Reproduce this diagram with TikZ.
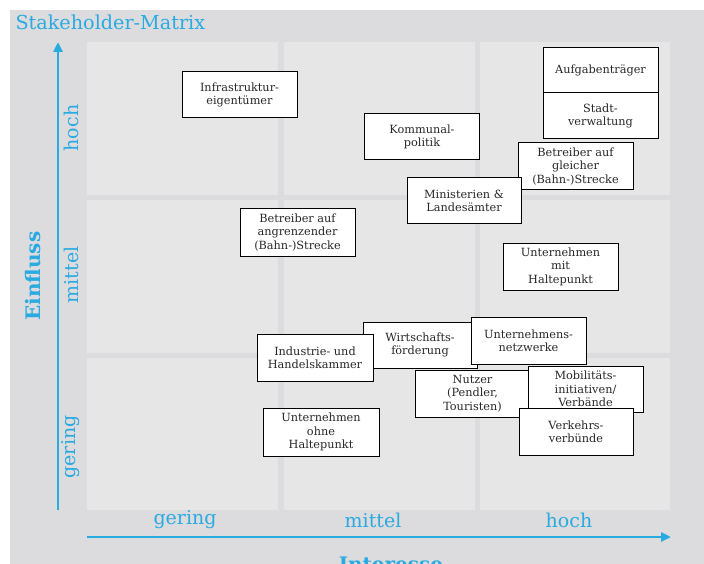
\documentclass[tikz,border=0pt]{standalone}
\usepackage{fontspec}
\setmainfont{DejaVu Serif}
\usetikzlibrary{arrows.meta}
\definecolor{axisblue}{RGB}{41,171,226}
\definecolor{bggray}{RGB}{220,219,221}
\definecolor{cellgray}{RGB}{230,230,230}
\definecolor{boxtext}{RGB}{40,40,40}
\tikzset{
  stake/.style={draw=black, line width=1pt, fill=white, text=boxtext,
    minimum width=115pt, minimum height=46pt, inner sep=1pt, align=center,
    font=\fontsize{11.3}{13.4}\selectfont},
  cell/.style={fill=cellgray, draw=none},
  axisarrow/.style={draw=axisblue, line width=2.6pt,
    -{Triangle[length=10pt,width=9pt]}},
  levelx/.style={text=axisblue, font=\fontsize{19}{22}\selectfont},
  levely/.style={text=axisblue, font=\fontsize{19}{22}\selectfont, rotate=90},
  axistitle/.style={text=axisblue, font=\fontsize{20}{24}\selectfont\bfseries}
}
\begin{document}
\begin{tikzpicture}[x=1pt,y=-1pt]
  \useasboundingbox (0,0) rectangle (704,564);
  \clip (0,0) rectangle (704,564);
  % backdrop
  \fill[white] (0,0) rectangle (704,564);
  \fill[bggray] (10,10) rectangle (704,564);
  % 3x3 grid of cells
  \foreach \xa/\xb in {87/278, 284/474.5, 480/670}
    \foreach \ya/\yb in {42/195, 200/353, 358/510}
      \fill[cell] (\xa,\ya) rectangle (\xb,\yb);

  % heading
  \node[anchor=west, text=axisblue, font=\fontsize{19.2}{22}\selectfont] (title) at (12,22) {Stakeholder-Matrix};

  % axes
  \coordinate (yfrom) at (58,510);
  \coordinate (yto) at (58,42);
  \coordinate (xfrom) at (87,537);
  \coordinate (xto) at (671,537);
  \draw[axisarrow] (yfrom) -- (yto);
  \draw[axisarrow] (xfrom) -- (xto);

  % axis levels
  \node[levely] (yhigh) at (71,128) {hoch};
  \node[levely] (ymid) at (71,275) {mittel};
  \node[levely] (ylow) at (71,447) {gering};
  \node[levelx] (xlow) at (185,520) {gering};
  \node[levelx] (xmid) at (373,520) {mittel};
  \node[levelx] (xhigh) at (569,520) {hoch};

  % axis names
  \node[axistitle, rotate=90] (einfluss) at (33,276) {Einfluss};
  \node[axistitle, anchor=north] (interesse) at (391,553) {Interesse};

  % stakeholders
  \node[stake] (infra) at (239.5,95) {Infrastruktur-\\eigentümer};
  \node[stake] (kommunal) at (422,137) {Kommunal-\\politik};
  \node[stake, minimum height=45pt] (aufgaben) at (600.5,70.5) {Aufgabenträger};
  \node[stake] (stadt) at (600.5,116) {Stadt-\\verwaltung};
  \node[stake, minimum height=47pt] (gleich) at (575.5,166.5) {Betreiber auf\\gleicher\\(Bahn-)Strecke};
  \node[stake, minimum width=114pt] (ministerien) at (464,201) {Ministerien \&\\Landesämter};
  \node[stake, minimum height=47pt] (angrenz) at (297.5,232.5) {Betreiber auf\\angrenzender\\(Bahn-)Strecke};
  \node[stake, minimum height=47pt] (mithalt) at (560.5,266.5) {Unternehmen\\mit\\Haltepunkt};
  \node[stake, minimum width=114pt] (wirtschaft) at (420,345) {Wirtschafts-\\förderung};
  \node[stake, minimum width=116pt, minimum height=47pt] (ihk) at (315,357.5) {Industrie- und\\Handelskammer};
  \node[stake, minimum height=47pt] (nutzer) at (472.5,393.5) {Nutzer\\(Pendler,\\Touristen)};
  \node[stake, minimum height=47pt] (netzwerke) at (528.5,340.5) {Unternehmens-\\netzwerke};
  \node[stake] (mobil) at (585.5,389) {Mobilitäts-\\initiativen/\\Verbände};
  \node[stake, minimum width=114pt, minimum height=47pt] (verbuende) at (576,431.5) {Verkehrs-\\verbünde};
  \node[stake, minimum width=116pt, minimum height=48pt] (ohnehalt) at (321,432) {Unternehmen\\ohne\\Haltepunkt};
\end{tikzpicture}
\end{document}
